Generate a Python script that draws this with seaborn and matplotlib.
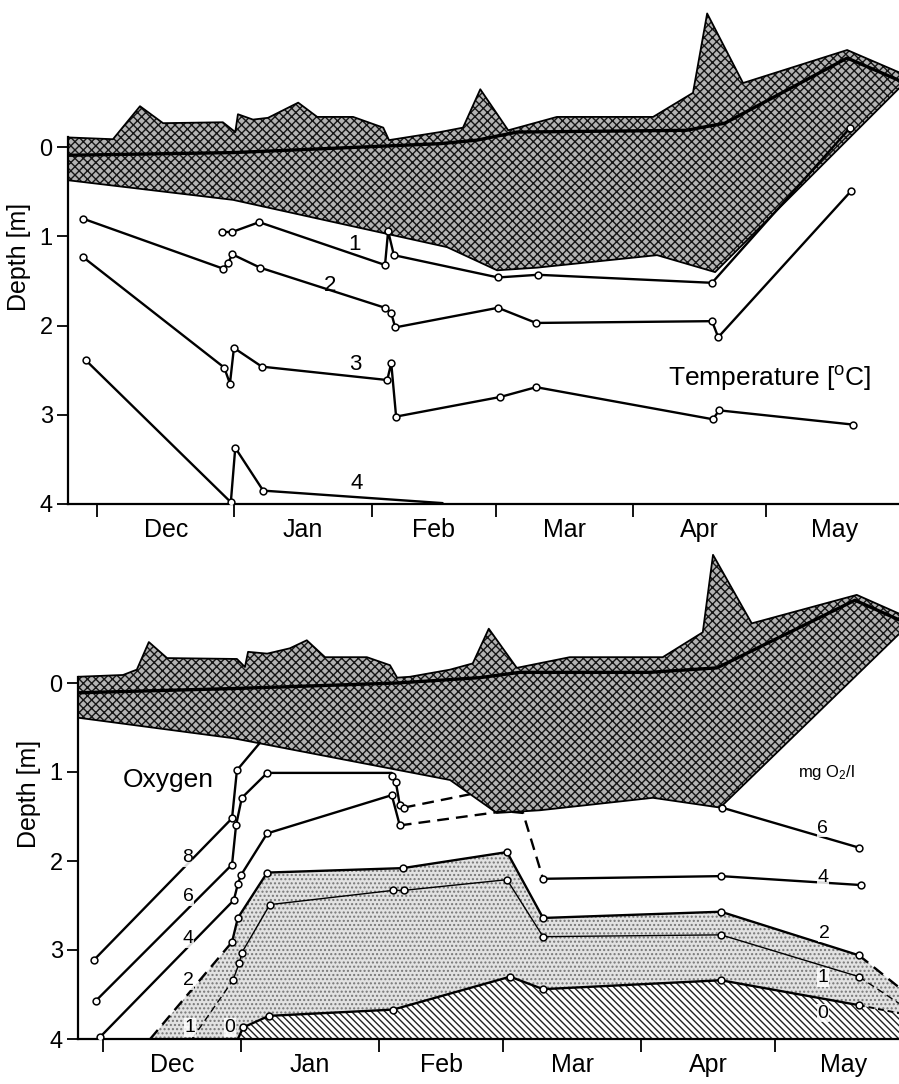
import numpy as np
import pandas as pd
import matplotlib
matplotlib.use("Agg")
import matplotlib.pyplot as plt
import seaborn as sns

# ---------------- data ----------------
months = ["Dec", "Jan", "Feb", "Mar", "Apr", "May"]
month_start = [0, 31, 62, 90, 121, 151]          # day index from 1 Dec
month_mid = [15.5, 46.5, 76, 105.5, 136, 166.5]
depth_ticks = [0, 1, 2, 3, 4]

# --- top panel: snow / ice ---
t_snow_day = [-6.55, 3.6, 9.7, 14.9, 28.4, 31.2, 31.8, 35.2, 38.6, 45.4, 49.7, 57.8, 64.6, 65.9,
              77.4, 82.6, 86.5, 92.8, 103.8, 125.5, 134.5, 137.7, 145.8, 169.3, 181.0]
t_snow_dep = [-0.11, -0.09, -0.46, -0.27, -0.28, -0.17, -0.37, -0.31, -0.33, -0.50, -0.34, -0.34, -0.22, -0.08,
              -0.17, -0.22, -0.65, -0.19, -0.34, -0.34, -0.61, -1.50, -0.72, -1.09, -0.84]
t_icetop_day = [-6.55, 30.7, 77.4, 85.8, 94.8, 133.0, 141.7, 169.3, 181.0]
t_icetop_dep = [0.09, 0.06, -0.04, -0.08, -0.17, -0.19, -0.27, -1.00, -0.75]
t_icebot_day = [-6.55, 30.7, 79.0, 90.3, 99.3, 126.4, 139.5, 181.0]
t_icebot_dep = [0.37, 0.59, 1.12, 1.38, 1.35, 1.21, 1.40, -0.66]

# --- top panel: isotherms ---
t1_day = [28.2, 30.5, 36.6, 65.0, 65.7, 67.0, 90.5, 99.5, 138.8, 170.0]
t1_dep = [0.95, 0.95, 0.84, 1.32, 0.94, 1.21, 1.46, 1.43, 1.52, -0.22]
t2_day = [-3.2, 28.4, 29.6, 30.5, 36.8, 65.0, 66.4, 67.3, 90.5, 99.1, 138.8, 140.2, 170.2]
t2_dep = [0.80, 1.36, 1.30, 1.20, 1.35, 1.80, 1.86, 2.02, 1.80, 1.97, 1.95, 2.13, 0.49]
t3_day = [-3.2, 28.7, 30.0, 30.9, 37.2, 65.5, 66.4, 67.5, 91.0, 99.1, 139.0, 140.4, 170.7]
t3_dep = [1.23, 2.47, 2.65, 2.25, 2.46, 2.61, 2.42, 3.02, 2.80, 2.69, 3.05, 2.95, 3.11]
t4_day = [-2.5, 30.2, 31.2, 37.5, 78.0]
t4_dep = [2.39, 3.98, 3.37, 3.85, 3.99]
t4_mark = [True, True, True, True, False]
t_labels = ["1", "2", "3", "4"]
t_label_day = [58.2, 52.6, 58.2, 58.7]
t_label_dep = [1.09, 1.55, 2.44, 3.77]

# --- bottom panel: snow / ice ---
b_snow_day = [-5.62, 4.5, 7.6, 10.3, 14.4, 30.1, 31.9, 32.6, 36.9, 42.0, 45.8, 49.9, 59.3, 64.5, 66.1, 69.0,
              78.0, 83.1, 86.7, 93.0, 104.9, 125.8, 134.8, 137.1, 145.8, 169.4, 178.9]
b_snow_dep = [-0.07, -0.09, -0.15, -0.46, -0.28, -0.27, -0.18, -0.35, -0.33, -0.39, -0.48, -0.29, -0.29, -0.20,
              -0.06, -0.07, -0.15, -0.22, -0.61, -0.17, -0.29, -0.29, -0.57, -1.44, -0.67, -0.99, -0.78]
b_icetop_day = [-5.62, 30.8, 66.1, 84.7, 93.7, 122.9, 138.0, 169.0, 178.9]
b_icetop_dep = [0.11, 0.06, 0.0, -0.06, -0.12, -0.12, -0.17, -0.93, -0.71]
b_icebot_day = [-5.62, 29.2, 78.0, 88.5, 98.2, 123.6, 138.7, 178.9]
b_icebot_dep = [0.39, 0.62, 1.09, 1.46, 1.43, 1.29, 1.40, -0.55]

# --- bottom panel: oxygen isolines (mg O2/l) ---
o8_day = [-2.0, 29.0, 30.1, 35.3]
o8_dep = [3.11, 1.52, 0.98, 0.67]
o8_mark = [True, True, True, False]
o6a_day = [-1.6, 29.0, 29.9, 31.2, 36.9, 64.9, 64.9, 65.8, 66.7, 67.6]
o6a_dep = [3.57, 2.04, 1.60, 1.29, 1.01, 1.01, 1.04, 1.11, 1.37, 1.40]
o6a_mark = [True, True, True, True, True, False, True, True, True, True]
o6b_day = [67.6, 82.5]                    # dashed, into the ice
o6b_dep = [1.40, 1.25]
o6c_day = [139.1, 169.9]
o6c_dep = [1.40, 1.85]
o4a_day = [-0.7, 29.4, 30.3, 31.0, 36.9, 64.9, 66.7]
o4a_dep = [3.98, 2.44, 2.26, 2.16, 1.69, 1.26, 1.60]
o4b_day = [66.7, 90.3, 94.4, 98.9]        # dashed
o4b_dep = [1.60, 1.44, 1.46, 2.20]
o4c_day = [98.9, 138.9, 170.3]
o4c_dep = [2.20, 2.17, 2.27]
o2_day = [10.6, 29.0, 30.3, 36.9, 67.4, 90.8, 98.9, 138.9, 169.9, 178.9]
o2_dep = [4.0, 2.91, 2.64, 2.13, 2.08, 1.90, 2.64, 2.57, 3.06, 3.42]
o1_day = [20.0, 29.2, 30.6, 31.2, 37.5, 65.2, 67.6, 90.8, 98.9, 138.9, 169.9, 178.9]
o1_dep = [4.0, 3.34, 3.15, 3.03, 2.49, 2.33, 2.33, 2.21, 2.85, 2.83, 3.30, 3.60]
o0_day = [30.3, 31.5, 37.3, 65.2, 91.5, 98.9, 138.9, 169.9, 178.9]
o0_dep = [4.0, 3.87, 3.74, 3.67, 3.30, 3.44, 3.34, 3.62, 3.71]
o_labels = ["8", "6", "4", "2", "1", "0", "6", "4", "2", "1", "0"]
o_label_day = [18.9, 19.1, 19.1, 19.1, 19.6, 28.5, 161.8, 161.8, 162.2, 161.8, 161.8]
o_label_dep = [1.96, 2.40, 2.87, 3.34, 3.87, 3.87, 1.63, 2.18, 2.81, 3.31, 3.71]

# ---------------- style ----------------
sns.set_theme(style="ticks")
plt.rcParams["font.family"] = ["Liberation Sans", "DejaVu Sans"]
plt.rcParams["mathtext.fontset"] = "custom"
plt.rcParams["mathtext.rm"] = "Liberation Sans"
plt.rcParams["mathtext.it"] = "Liberation Sans"
plt.rcParams["hatch.linewidth"] = 1.0
for k in ["text.color", "axes.labelcolor", "xtick.color", "ytick.color", "axes.edgecolor"]:
    plt.rcParams[k] = "black"

LW = 1.7
MK = dict(s=24, facecolor="white", edgecolor="black", linewidth=1.1, zorder=6)


def line(ax, d, z, mark=None, ls="-", lw=LW, z_order=5):
    sns.lineplot(x=d, y=z, ax=ax, sort=False, estimator=None, color="black",
                 lw=lw, linestyle=ls, zorder=z_order, legend=False)
    if mark is not None:
        md = [a for a, m in zip(d, mark) if m]
        mz = [b for b, m in zip(z, mark) if m]
        sns.scatterplot(x=md, y=mz, ax=ax, marker="o", legend=False, **MK)


def snow_ice(ax, sd, sz, td, tz, bd, bz):
    px = list(sd) + list(bd[::-1])
    py = list(sz) + list(bz[::-1])
    ax.fill(px, py, facecolor="#b3b3b3", edgecolor="#151515", lw=0, hatch="xxxx", zorder=2)
    sns.lineplot(x=sd, y=sz, ax=ax, sort=False, estimator=None, color="black", lw=1.3, zorder=3)
    sns.lineplot(x=bd, y=bz, ax=ax, sort=False, estimator=None, color="black", lw=1.3, zorder=3)
    sns.lineplot(x=td, y=tz, ax=ax, sort=False, estimator=None, color="black", lw=2.4, zorder=3)


def setup_axes(ax, xlim, ylim, spine_top):
    ax.set_xlim(*xlim)
    ax.set_ylim(*ylim)
    for s in ["top", "right"]:
        ax.spines[s].set_visible(False)
    ax.spines["left"].set_bounds(spine_top, 4)
    for s in ["left", "bottom"]:
        ax.spines[s].set_linewidth(1.6)
        ax.spines[s].set_color("black")
    ax.set_yticks(depth_ticks)
    ax.set_yticklabels([str(v) for v in depth_ticks], fontsize=17)
    ax.tick_params(axis="y", direction="out", length=8, width=1.3, pad=3, colors="black")
    ax.set_xticks(month_start)
    ax.set_xticklabels([])
    ax.set_xticks(month_mid, minor=True)
    ax.set_xticklabels(months, minor=True, fontsize=18)
    ax.tick_params(axis="x", which="major", direction="out", length=9, width=1.3, colors="black")
    ax.tick_params(axis="x", which="minor", length=0, pad=10, colors="black")
    ax.set_ylabel("Depth [m]", fontsize=18, labelpad=6, color="black")
    ax.set_xlabel("")
    ax.patch.set_alpha(0)


fig = plt.figure(figsize=(8.99, 10.84), dpi=100)
ax1 = fig.add_axes([68 / 899, 580 / 1084, 831 / 899, 495 / 1084])
ax2 = fig.add_axes([78 / 899, 45 / 1084, 821 / 899, 489.5 / 1084])

# ---------------- top panel ----------------
snow_ice(ax1, t_snow_day, t_snow_dep, t_icetop_day, t_icetop_dep, t_icebot_day, t_icebot_dep)
line(ax1, t1_day, t1_dep, [True] * len(t1_day))
line(ax1, t2_day, t2_dep, [True] * len(t2_day))
line(ax1, t3_day, t3_dep, [True] * len(t3_day))
line(ax1, t4_day, t4_dep, t4_mark)
for lab, d, z in zip(t_labels, t_label_day, t_label_dep):
    ax1.text(d, z, lab, fontsize=16, ha="center", va="center", zorder=7)
ax1.text(128.9, 2.59, r"Temperature [$^{\mathrm{o}}$C]", fontsize=19, ha="left", va="center")
setup_axes(ax1, (-6.55, 181.0), (4, -1.55), t_snow_dep[0])

# ---------------- bottom panel ----------------
ax2.fill_between(o2_day, o2_dep, 4, facecolor="#e2e2e2", edgecolor="#777777", lw=0,
                 hatch="....", zorder=1)
ax2.fill_between(o0_day, o0_dep, 4, facecolor="white", edgecolor="#222222", lw=0,
                 hatch="\\\\\\\\\\", zorder=1.5)
snow_ice(ax2, b_snow_day, b_snow_dep, b_icetop_day, b_icetop_dep, b_icebot_day, b_icebot_dep)

line(ax2, o8_day, o8_dep, o8_mark)
line(ax2, o6a_day, o6a_dep, o6a_mark)
line(ax2, o6b_day, o6b_dep, None, ls=(0, (5, 3)))
line(ax2, o6c_day, o6c_dep, [True, True])
line(ax2, o4a_day, o4a_dep, [True] * len(o4a_day))
line(ax2, o4b_day, o4b_dep, None, ls=(0, (5, 3)))
line(ax2, o4c_day, o4c_dep, [True] * len(o4c_day))
# isoline 2: dashed ends, solid middle
line(ax2, o2_day[:2], o2_dep[:2], None, ls=(0, (5, 3)))
line(ax2, o2_day[1:-1], o2_dep[1:-1], [True] * (len(o2_day) - 2))
line(ax2, o2_day[-2:], o2_dep[-2:], None, ls=(0, (5, 3)))
# isoline 1 (thin)
line(ax2, o1_day[:2], o1_dep[:2], None, ls=(0, (5, 3)), lw=1.0)
line(ax2, o1_day[1:-1], o1_dep[1:-1], [True] * (len(o1_day) - 2), lw=1.0)
line(ax2, o1_day[-2:], o1_dep[-2:], None, ls=(0, (5, 3)), lw=1.0)
# isoline 0
line(ax2, o0_day[:-1], o0_dep[:-1], [False] + [True] * (len(o0_day) - 2))
line(ax2, o0_day[-2:], o0_dep[-2:], None, ls=(0, (3, 2)), lw=1.4)

for lab, d, z in zip(o_labels, o_label_day, o_label_dep):
    ax2.text(d, z, lab, fontsize=14, ha="center", va="center", zorder=7,
             bbox=dict(facecolor="white", edgecolor="none", pad=0.5, alpha=0.85))
ax2.text(4.5, 1.09, "Oxygen", fontsize=19, ha="left", va="center")
ax2.text(162.5, 1.01, r"mg O$_2$/l", fontsize=12, ha="center", va="center")
setup_axes(ax2, (-5.62, 178.9), (4, -1.5), b_snow_dep[0])

fig.savefig("out.png", dpi=100)
